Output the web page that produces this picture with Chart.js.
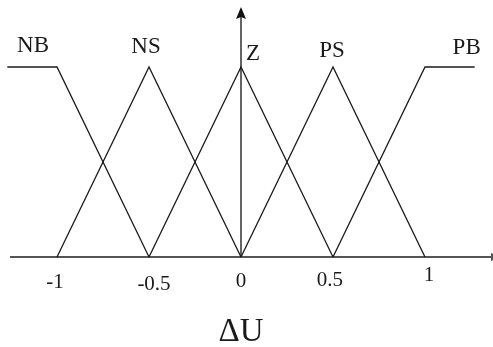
<!DOCTYPE html>
<html>
<head>
<meta charset="utf-8">
<script src="https://cdn.jsdelivr.net/npm/chart.js@4/dist/chart.umd.min.js"></script>
<style>
  html, body { margin: 0; padding: 0; background: #fff; }
  canvas { display: block; }
</style>
</head>
<body>
<canvas id="fuzzyChart" width="493" height="347"></canvas>
<script>
// membership sets for the output change ΔU
const setNames = ["NB", "NS", "Z", "PS", "PB"];
const nbX = [-1.27, -1, -0.5];
const nbY = [1, 1, 0];
const nsX = [-1, -0.5, 0];
const nsY = [0, 1, 0];
const zX = [-0.5, 0, 0.5];
const zY = [0, 1, 0];
const psX = [0, 0.5, 1];
const psY = [0, 1, 0];
const pbX = [0.5, 1, 1.27];
const pbY = [0, 1, 1];
const tickValues = [-1, -0.5, 0, 0.5, 1];
const tickLabels = ["-1", "-0.5", "0", "0.5", "1"];
const axisTitle = "ΔU";

const setXs = [nbX, nsX, zX, psX, pbX];
const setYs = [nbY, nsY, zY, psY, pbY];

function toPoints(xs, ys) {
    return xs.map((x, i) => ({ x: x, y: ys[i] }));
}

const serif = '"Liberation Serif", "Times New Roman", serif';

/* ---------- axes, arrows and text ---------- */
const axesPlugin = {
    id: "fuzzyAxes",
    beforeDatasetsDraw(chart) {
        const ctx = chart.ctx;
        const sx = chart.scales.x;
        const sy = chart.scales.y;
        const y0 = sy.getPixelForValue(0);
        const x0 = sx.getPixelForValue(0);

        ctx.save();
        // horizontal axis
        ctx.strokeStyle = "#555";
        ctx.lineWidth = 2;
        ctx.beginPath();
        ctx.moveTo(10, y0);
        ctx.lineTo(493, y0);
        ctx.stroke();
        ctx.fillStyle = "#555";
        ctx.beginPath();
        ctx.moveTo(501, y0);
        ctx.lineTo(491, y0 - 4);
        ctx.lineTo(491, y0 + 4);
        ctx.closePath();
        ctx.fill();

        // vertical axis
        ctx.strokeStyle = "#111";
        ctx.lineWidth = 1.3;
        ctx.beginPath();
        ctx.moveTo(x0, y0);
        ctx.lineTo(x0, 15);
        ctx.stroke();
        ctx.fillStyle = "#111";
        ctx.beginPath();
        ctx.moveTo(x0, 7);
        ctx.lineTo(x0 - 5, 19);
        ctx.lineTo(x0, 17);
        ctx.lineTo(x0 + 5, 19);
        ctx.closePath();
        ctx.fill();
        ctx.restore();
    },
    afterDatasetsDraw(chart) {
        const ctx = chart.ctx;
        const sx = chart.scales.x;
        const sy = chart.scales.y;

        ctx.save();
        ctx.fillStyle = "#1a1a1a";
        ctx.textAlign = "center";
        ctx.textBaseline = "middle";

        // tick labels under the axis
        const tickNudge = [-2, 5, 0, -3, 4];
        const tickLift = [1, 3, 0, -1, -6];
        ctx.font = "21px " + serif;
        tickValues.forEach((v, i) => {
            ctx.fillText(tickLabels[i], sx.getPixelForValue(v) + tickNudge[i], 281 + tickLift[i]);
        });

        // set names beside each peak / shoulder
        const anchorIdx = [1, 1, 1, 1, 2];
        const offsets = [[-24, -21], [-3, -20], [12, -13], [-1, -16], [-8, -19]];
        ctx.font = "23px " + serif;
        setNames.forEach((name, i) => {
            const xs = setXs[i];
            const ys = setYs[i];
            const px = sx.getPixelForValue(xs[anchorIdx[i]]);
            const py = sy.getPixelForValue(ys[anchorIdx[i]]);
            ctx.fillText(name, px + offsets[i][0], py + offsets[i][1]);
        });

        // axis title
        ctx.font = "33px " + serif;
        ctx.fillText(axisTitle, sx.getPixelForValue(0), 332);
        ctx.restore();
    }
};

const datasets = setNames.map((name, i) => ({
    label: name,
    data: toPoints(setXs[i], setYs[i]),
    showLine: true,
    borderColor: "#1a1a1a",
    borderWidth: 1.3,
    pointRadius: 0,
    tension: 0,
    clip: false
}));

new Chart(document.getElementById("fuzzyChart"), {
    type: "scatter",
    data: { datasets: datasets },
    options: {
        responsive: false,
        animation: false,
        layout: { padding: 0 },
        plugins: {
            legend: { display: false },
            tooltip: { enabled: false }
        },
        scales: {
            x: { type: "linear", min: -1.3098, max: 1.3696, display: false },
            y: { type: "linear", min: -0.4737, max: 1.3526, display: false }
        }
    },
    plugins: [axesPlugin]
});
</script>
</body>
</html>
